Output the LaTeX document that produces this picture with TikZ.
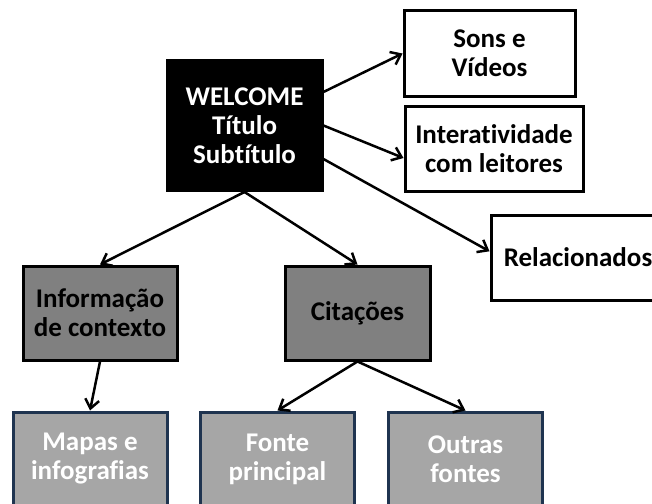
\documentclass[tikz,border=0pt]{standalone}
\usepackage{fontspec}
\setmainfont{Carlito}[RawFeature=-liga]
\usetikzlibrary{arrows.meta}
\definecolor{midgray}{RGB}{128,128,128}
\definecolor{lowgray}{RGB}{166,166,166}
\definecolor{lownavy}{RGB}{31,52,80}
\tikzset{
  box/.style={draw, line width=3pt, inner sep=0pt, align=center,
    font=\fontsize{27}{29}\selectfont\bfseries},
  welcomebox/.style={box, fill=black, text=white, minimum width=155pt, minimum height=130pt},
  topbox/.style={box, fill=white, text=black, minimum height=85pt},
  midbox/.style={box, fill=midgray, text=black, minimum height=94pt},
  lowbox/.style={box, draw=lownavy, fill=lowgray, text=white, minimum width=154pt, minimum height=94pt},
  link/.style={line width=2.5pt, -{Straight Barb[length=9pt,width=14pt,line width=2.5pt]}}
}

\begin{document}
\begin{tikzpicture}[x=1pt, y=-1pt]
                    \clip (0,0) rectangle (652,503);
                    \fill[white] (0,0) rectangle (652,503);
                    % boxes
                    \node[welcomebox] (welcome) at (244.5,125.5) {WELCOME\\Título\\Subtítulo};
                    \node[topbox, minimum width=171pt] (sons) at (489.5,53.5) {Sons e\\Vídeos};
                    \node[topbox, minimum width=178pt] (inter) at (494,148.5) {Interatividade\\com leitores};
                    \node[topbox, minimum width=174pt] (rel) at (578,257.5) {Relacionados};
                    \node[midbox, minimum width=154pt] (info) at (100,313) {Informação\\de contexto};
                    \node[midbox, minimum width=145pt] (cit) at (357.5,313) {Citações};
                    \node[lowbox] (mapas) at (90,459) {Mapas e\\infografias};
                    \node[lowbox] (fonte) at (277.5,459) {Fonte\\principal};
                    \node[lowbox] (outras) at (465.5,459) {Outras\\fontes};
                    % arrows
                    \draw[link] (welcome.23) -- (sons.west);
                    \draw[link] (welcome.east) -- (inter.186);
                    \draw[link] (welcome.-23) -- (rel.176);
                    \draw[link] (welcome.south) -- (info.north);
                    \draw[link] (welcome.south) -- (cit.north);
                    \draw[link] (info.south) -- (mapas.north);
                    \draw[link] (cit.south) -- (fonte.north);
                    \draw[link] (cit.south) -- (outras.north);
                \end{tikzpicture}
\end{document}
